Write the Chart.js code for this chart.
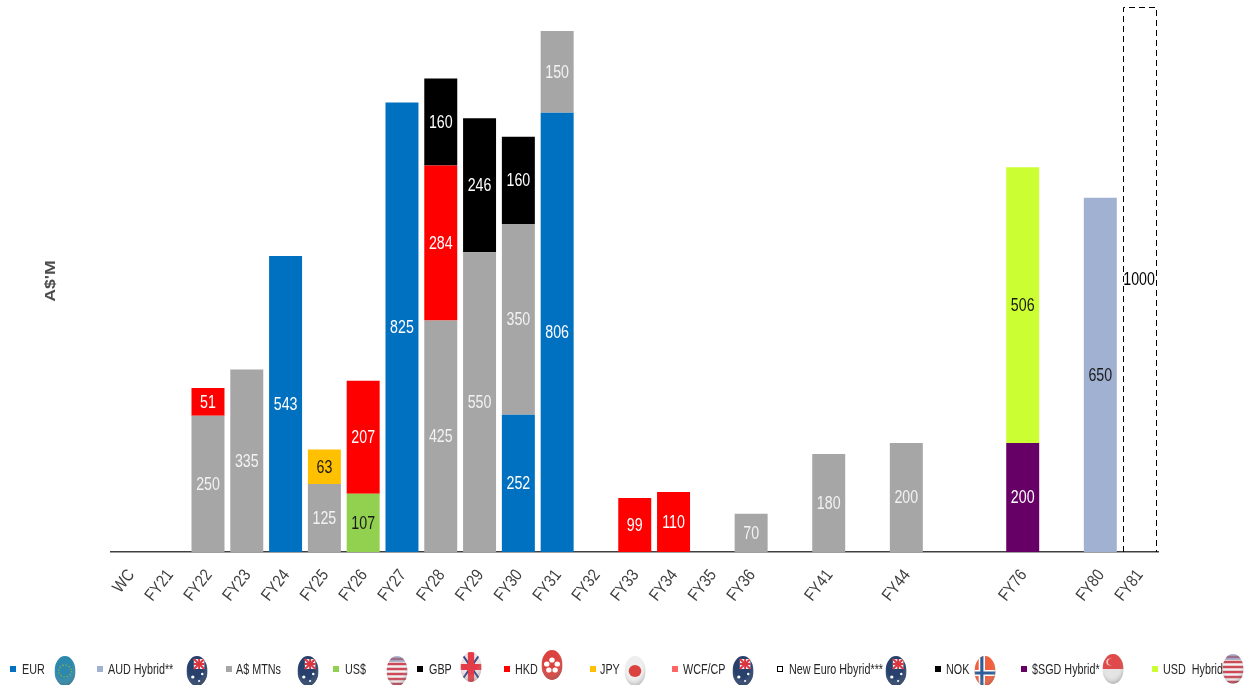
<!DOCTYPE html>
<html lang="en">
<head>
  <meta charset="UTF-8">
  <title>Debt maturity profile</title>
  <style>
    body { margin: 0; background: #fff; }
    #wrap { position: relative; width: 1252px; height: 685px; overflow: hidden; font-family: "Liberation Sans", Arial, sans-serif; }
    canvas { position: absolute; left: 0; top: 0; }
    .mark { position: absolute; top: 666px; width: 6px; height: 6px; }
    .name { position: absolute; top: 661px; font-size: 14px; line-height: 16px; color: #262626; white-space: pre; transform: scaleX(0.77); transform-origin: left center; }
    #flags { position: absolute; left: 0; top: 0; }
  </style>
  <script src="https://cdn.jsdelivr.net/npm/chart.js"></script>
</head>
<body>
  <div id="wrap">
    <canvas id="chart" width="1252" height="685"></canvas>
    <svg id="flags" width="1252" height="685"></svg>
  </div>

  <script>
    // Categories, blanks keep the gaps between far-out years
    const categories = ['WC', 'FY21', 'FY22', 'FY23', 'FY24', 'FY25', 'FY26', 'FY27', 'FY28', 'FY29', 'FY30', 'FY31', 'FY32', 'FY33', 'FY34', 'FY35', 'FY36', '', 'FY41', '', 'FY44', '', '', 'FY76', '', 'FY80', 'FY81'];

    // Series values, same order as categories
    const eur      = [null, null, null, null, 543, null, null, 825, null, null, 252, 806, null, null, null, null, null, null, null, null, null, null, null, null, null, null, null];
    const audHybrid = [null, null, null, null, null, null, null, null, null, null, null, null, null, null, null, null, null, null, null, null, null, null, null, null, null, 650, null];
    const audMtn   = [null, null, 250, 335, null, 125, null, null, 425, 550, 350, 150, null, null, null, null, 70, null, 180, null, 200, null, null, null, null, null, null];
    const usd      = [null, null, null, null, null, null, 107, null, null, null, null, null, null, null, null, null, null, null, null, null, null, null, null, null, null, null, null];
    const gbp      = [null, null, null, null, null, null, null, null, null, 246, null, null, null, null, null, null, null, null, null, null, null, null, null, null, null, null, null];
    const hkd      = [null, null, 51, null, null, null, 207, null, 284, null, null, null, null, 99, 110, null, null, null, null, null, null, null, null, null, null, null, null];
    const jpy      = [null, null, null, null, null, 63, null, null, null, null, null, null, null, null, null, null, null, null, null, null, null, null, null, null, null, null, null];
    const newEuro  = [null, null, null, null, null, null, null, null, null, null, null, null, null, null, null, null, null, null, null, null, null, null, null, null, null, null, 1000];
    const nok      = [null, null, null, null, null, null, null, null, 160, null, 160, null, null, null, null, null, null, null, null, null, null, null, null, null, null, null, null];
    const sgdHybrid = [null, null, null, null, null, null, null, null, null, null, null, null, null, null, null, null, null, null, null, null, null, null, null, 200, null, null, null];
    const usdHybrid = [null, null, null, null, null, null, null, null, null, null, null, null, null, null, null, null, null, null, null, null, null, null, null, 506, null, null, null];

    const yTitle = "A$'M";

    const FONT = '"Liberation Sans", Arial, sans-serif';
    const NARROW = 0.85; // no Arial Narrow here, so squeeze the text by hand

    const ds = (label, data, color, textColor) => ({
      label, data, backgroundColor: color, textColor,
      barPercentage: 0.85, categoryPercentage: 1
    });

    // Value labels in the middle of each bar segment
    const valueLabels = {
      id: 'valueLabels',
      afterDatasetsDraw(chart) {
        const ctx = chart.ctx;
        chart.data.datasets.forEach((set, i) => {
          chart.getDatasetMeta(i).data.forEach((bar, j) => {
            if (set.data[j] == null) return;
            ctx.save();
            ctx.translate(bar.x, (bar.y + bar.base) / 2 + 1);
            ctx.scale(0.79, 1);
            ctx.font = '18px ' + FONT;
            ctx.textAlign = 'center';
            ctx.textBaseline = 'middle';
            ctx.fillStyle = set.textColor;
            ctx.fillText(set.data[j], 0, 0);
            ctx.restore();
          });
        });
      }
    };

    // Squeezed, rotated category labels hung from the axis ticks, plus the stretched y title
    const axisText = {
      id: 'axisText',
      afterDraw(chart) {
        const ctx = chart.ctx;
        const x = chart.scales.x;
        categories.forEach((name, i) => {
          if (!name) return;
          ctx.save();
          ctx.translate(x.getPixelForTick(i) + 1, x.top + 20);
          ctx.rotate(-52 * Math.PI / 180);
          ctx.scale(NARROW, 1);
          ctx.font = '17px ' + FONT;
          ctx.textAlign = 'right';
          ctx.textBaseline = 'middle';
          ctx.fillStyle = '#404040';
          ctx.fillText(name, 0, 0);
          ctx.restore();
        });

        ctx.save();
        ctx.translate(51, 281);
        ctx.rotate(-Math.PI / 2);
        ctx.scale(1.18, 1);
        ctx.font = 'bold 15px ' + FONT;
        ctx.textAlign = 'center';
        ctx.textBaseline = 'middle';
        ctx.fillStyle = '#4d4d4d';
        ctx.fillText(yTitle, 0, 0);
        ctx.restore();
      }
    };

    // Chart.js bars have no dashed border, so outline the New Euro bar here
    const dashedBar = {
      id: 'dashedBar',
      afterDatasetsDraw(chart) {
        const ctx = chart.ctx;
        chart.data.datasets.forEach((set, i) => {
          if (!set.dashed) return;
          chart.getDatasetMeta(i).data.forEach((bar, j) => {
            if (set.data[j] == null) return;
            const l = Math.round(bar.x - bar.width / 2) + 0.5, r = Math.round(bar.x + bar.width / 2) + 0.5;
            const t = Math.round(bar.y) + 0.5;
            ctx.save();
            ctx.strokeStyle = '#000';
            ctx.lineWidth = 1;
            ctx.setLineDash([6, 4]);
            ctx.beginPath();
            ctx.moveTo(l, bar.base);
            ctx.lineTo(l, t);
            ctx.lineTo(r, t);
            ctx.lineTo(r, bar.base);
            ctx.stroke();
            ctx.restore();
          });
        });
      }
    };

    const newEuroSet = ds('New Euro Hbyrid***', newEuro, 'rgba(255,255,255,0)', '#000');
    newEuroSet.dashed = true;

    new Chart(document.getElementById('chart'), {
      type: 'bar',
      data: {
        labels: categories,
        datasets: [
          ds('EUR', eur, '#0070C0', '#fff'),
          ds('AUD Hybrid**', audHybrid, '#A1B1D2', '#1a1a1a'),
          ds('A$ MTNs', audMtn, '#A6A6A6', '#f2f2f2'),
          ds('US$', usd, '#92D050', '#1a1a1a'),
          ds('GBP', gbp, '#000000', '#fff'),
          ds('HKD', hkd, '#FF0000', '#fff'),
          ds('JPY', jpy, '#FFC000', '#1a1a1a'),
          newEuroSet,
          ds('NOK', nok, '#000000', '#fff'),
          ds('$SGD Hybrid*', sgdHybrid, '#660066', '#fff'),
          ds('USD Hybrid', usdHybrid, '#CCFF33', '#1a1a1a')
        ]
      },
      options: {
        responsive: false,
        animation: false,
        layout: { padding: { top: 7, right: 93.5, bottom: 0, left: 0 } },
        plugins: { legend: { display: false }, tooltip: { enabled: false } },
        scales: {
          x: {
            stacked: true,
            afterFit(scale) { scale.height = 133; },
            grid: { display: false },
            border: { color: '#404040', width: 1.5 },
            ticks: { display: false, autoSkip: false }
          },
          y: {
            stacked: true,
            min: 0,
            max: 1000,
            afterFit(scale) { scale.width = 111; },
            grid: { display: false },
            border: { display: false },
            ticks: { display: false }
          }
        }
      },
      plugins: [dashedBar, valueLabels, axisText]
    });

    // Legend row: name, colour, and where the swatch, text and flag sit
    const legendNames = ['EUR', 'AUD Hybrid**', 'A$ MTNs', 'US$', 'GBP', 'HKD', 'JPY', 'WCF/CP', 'New Euro Hbyrid***', 'NOK', '$SGD Hybrid*', 'USD  Hybrid'];
    const legendColors = ['#0070C0', '#A1B1D2', '#A6A6A6', '#92D050', '#000000', '#FF0000', '#FFC000', '#FF6666', '#ffffff', '#000000', '#660066', '#CCFF33'];
    const legendMarkX = [10, 97, 226, 333, 417, 504, 590, 672, 777, 935, 1021, 1152];
    const legendTextX = [22, 108, 236, 345, 429, 515, 600, 683, 789, 946, 1032, 1163];
    const legendFlags = ['eu', 'au', 'au', 'us', 'gb', 'hk', 'jp', 'au', 'au', 'no', 'sg', 'us'];
    const legendFlagX = [65, 197, 308, 397, 471, 552, 635, 743, 896, 985, 1113, 1233];
    const legendFlagTop = [656, 656, 656, 656, 652, 650, 656, 656, 656, 656, 654, 654];

    const wrap = document.getElementById('wrap');
    legendNames.forEach((name, i) => {
      const mark = document.createElement('div');
      mark.className = 'mark';
      mark.style.left = legendMarkX[i] + 'px';
      mark.style.background = legendColors[i];
      if (name.startsWith('New')) mark.style.border = '1px dashed #000', mark.style.width = '4px', mark.style.height = '4px';
      wrap.appendChild(mark);
      const text = document.createElement('div');
      text.className = 'name';
      text.style.left = legendTextX[i] + 'px';
      text.textContent = name;
      wrap.appendChild(text);
    });

    // Flags are little shaded balls, drawn in a 20x30 box
    const flagArt = {
      eu: '<rect width="20" height="30" fill="#1A7FA6"/><circle cx="10" cy="15" r="6" fill="none" stroke="#7FA93A" stroke-width="1.2" stroke-dasharray="1.5 1.6"/>',
      au: '<rect width="20" height="30" fill="#14305F"/><rect x="7" y="3" width="10" height="10" fill="#E8E8F0"/><path d="M7 3L17 13M17 3L7 13M12 3V13M7 8H17" stroke="#D8242F" stroke-width="1.8"/><circle cx="15" cy="18" r="1.2" fill="#fff"/><circle cx="6" cy="21" r="1.6" fill="#fff"/><circle cx="12" cy="25" r="1.1" fill="#fff"/>',
      us: '<rect width="20" height="30" fill="#F2F2F2"/><path d="M0 3H20M0 8H20M0 13H20M0 18H20M0 23H20M0 28H20" stroke="#C8394A" stroke-width="2.4"/><rect width="20" height="6" fill="#6E7FA8" opacity="0.6"/>',
      gb: '<rect width="20" height="30" fill="#F2DDE0"/><path d="M0 0L20 30M20 0L0 30" stroke="#24407F" stroke-width="2"/><path d="M10 0V30M0 15H20" stroke="#E12B38" stroke-width="6"/>',
      hk: '<rect width="20" height="30" fill="#D8332F"/><g fill="#fff"><circle cx="10" cy="10" r="2.6"/><circle cx="15" cy="14" r="2.6"/><circle cx="13" cy="20" r="2.6"/><circle cx="7" cy="20" r="2.6"/><circle cx="5" cy="14" r="2.6"/></g>',
      jp: '<rect width="20" height="30" fill="#EDEDED"/><circle cx="10" cy="15" r="6" fill="#D8332F"/>',
      no: '<rect width="20" height="30" fill="#F0522B"/><path d="M7 0V30M0 17H20" stroke="#fff" stroke-width="6"/><path d="M7 0V30M0 17H20" stroke="#1C4F8F" stroke-width="3"/>',
      sg: '<rect width="20" height="30" fill="#E2E2E2"/><rect width="20" height="15" fill="#DC3A3A"/><circle cx="7" cy="8" r="3.4" fill="#F4C8C8"/><circle cx="8.4" cy="8" r="3.2" fill="#DC3A3A"/>'
    };

    let flagSvg = '<defs><radialGradient id="ball" cx="45%" cy="35%" r="70%"><stop offset="55%" stop-color="#fff" stop-opacity="0.08"/><stop offset="100%" stop-color="#555" stop-opacity="0.45"/></radialGradient></defs>';
    legendFlags.forEach((flag, i) => {
      const x = legendFlagX[i] - 10.5, y = legendFlagTop[i];
      flagSvg += `<clipPath id="c${i}"><ellipse cx="10" cy="15" rx="10" ry="15"/></clipPath>` +
        `<g transform="translate(${x} ${y}) scale(1.05 1)"><g clip-path="url(#c${i})">${flagArt[flag]}</g><ellipse cx="10" cy="15" rx="10" ry="15" fill="url(#ball)"/></g>`;
    });
    document.getElementById('flags').innerHTML = flagSvg;
  </script>
</body>
</html>
